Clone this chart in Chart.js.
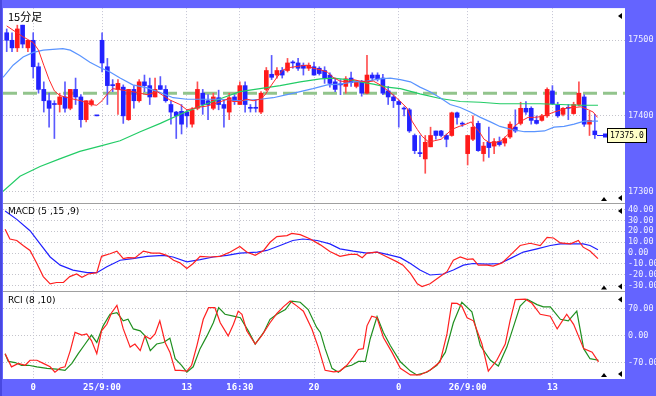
<!DOCTYPE html>
<html>
<head>
<meta charset="utf-8">
<script src="https://cdn.jsdelivr.net/npm/chart.js@4/dist/chart.umd.min.js"></script>
<style>
  html, body { margin: 0; padding: 0; background: #6464ff; }
  #wrap { width: 656px; height: 396px; }
</style>
</head>
<body>
<div id="wrap"><canvas id="chart" width="656" height="396"></canvas></div>
<script>
// 15 minute bars, index 0 = first bar on the left
const openP = [
  17510,17500,17490,17520,17490,17500,17465,17435,17420,17415,
  17415,17425,17410,17435,17425,17395,17415,17400,17500,17465,
  17440,17435,17438,17395,17435,17420,17445,17440,17425,17440,
  17435,17415,17405,17406,17405,17389,17410,17430,17420,17410,
  17424,17415,17405,17425,17415,17440,17410,17410,17405,17435,
  17455,17454,17460,17460,17470,17470,17467,17463,17465,17463,
  17460,17454,17445,17441,17439,17450,17439,17445,17430,17454,
  17454,17450,17433,17425,17419,17410,17408,17374,17350,17343,
  17359,17380,17380,17374,17374,17404,17389,17350,17369,17390,
  17350,17365,17360,17366,17364,17372,17385,17390,17410,17410,
  17394,17394,17400,17433,17414,17402,17411,17403,17415,17425,17389,17380
];
const highP = [
  17515,17510,17520,17520,17500,17510,17470,17445,17430,17420,
  17430,17445,17435,17450,17428,17420,17422,17400,17510,17476,
  17448,17448,17441,17435,17440,17448,17454,17450,17450,17452,
  17440,17420,17406,17415,17408,17411,17445,17435,17428,17430,
  17434,17421,17430,17428,17445,17445,17415,17421,17432,17464,
  17480,17464,17464,17476,17473,17476,17470,17470,17471,17465,
  17465,17457,17450,17448,17452,17458,17447,17447,17480,17457,
  17457,17455,17439,17428,17421,17412,17410,17376,17374,17374,
  17385,17380,17381,17376,17405,17405,17392,17374,17400,17393,
  17365,17385,17370,17372,17372,17392,17408,17418,17419,17412,
  17400,17402,17437,17440,17418,17411,17415,17418,17445,17428,17406,17402
];
const lowP = [
  17485,17485,17485,17490,17485,17450,17430,17405,17385,17370,
  17405,17405,17408,17415,17385,17392,17413,17400,17458,17415,
  17432,17402,17390,17394,17410,17418,17432,17415,17425,17435,
  17418,17389,17370,17376,17385,17385,17408,17402,17395,17408,
  17408,17385,17395,17415,17415,17405,17405,17405,17403,17433,
  17448,17450,17450,17458,17463,17460,17454,17460,17454,17454,
  17443,17438,17432,17428,17430,17439,17437,17426,17429,17447,
  17446,17428,17415,17411,17385,17400,17378,17350,17346,17324,
  17359,17369,17372,17359,17373,17389,17386,17335,17367,17353,
  17340,17345,17350,17360,17360,17370,17378,17388,17402,17389,
  17389,17393,17398,17415,17398,17400,17395,17402,17413,17386,17374,17370
];
const closeP = [
  17500,17490,17515,17495,17500,17465,17435,17420,17410,17415,
  17425,17410,17435,17425,17395,17420,17420,17400,17470,17440,
  17440,17443,17400,17435,17420,17445,17440,17425,17435,17435,
  17420,17405,17400,17389,17400,17408,17435,17415,17415,17425,
  17415,17410,17424,17420,17440,17415,17410,17410,17430,17460,
  17451,17460,17454,17470,17470,17463,17463,17467,17454,17456,
  17450,17443,17435,17441,17449,17444,17445,17430,17454,17450,
  17449,17430,17425,17420,17415,17409,17380,17354,17350,17365,
  17374,17374,17374,17369,17404,17398,17389,17374,17385,17354,
  17360,17358,17366,17362,17370,17389,17380,17410,17405,17394,
  17390,17400,17435,17416,17400,17410,17410,17415,17430,17389,17394,17375
];

// moving averages: [bar position, price]
const maFast = [
  [0,17519],[3,17505],[5,17497],[6,17487],[7,17467],[8,17448],[9,17433],[10,17427],[12,17423],
  [14,17420],[16,17415],[17,17414],[18,17420],[19,17429],[20,17436],[22,17434],[24.6,17431],
  [26.5,17428],[28.4,17432],[30.8,17421],[32.7,17415],[34,17408],[35.9,17411],[37.8,17413],
  [39.7,17417],[41.6,17422],[42.7,17419],[44,17419],[45.4,17422],[46.5,17420],[47.8,17422],
  [48.8,17428],[49.7,17438],[51,17451],[52.2,17461],[53.5,17464],[55.4,17466],[56.7,17467],
  [57.8,17463],[59.2,17461],[60.5,17458],[61.6,17451],[62.9,17446],[64.3,17445],[65.4,17448],
  [66.7,17446],[68,17445],[69.2,17446],[70.5,17441],[71.8,17434],[72.9,17428],[74.3,17419],
  [75.6,17410],[76.5,17393],[77.5,17382],[78.4,17373],[79.7,17365],[80.7,17367],[82,17369],
  [83.1,17376],[84,17382],[85.4,17386],[86.7,17389],[87.7,17392],[88.2,17386],[89.2,17379],
  [90.1,17369],[91,17365],[92,17364],[93.3,17367],[94.7,17376],[95.8,17386],[97.1,17393],
  [98.4,17398],[99.6,17398],[100.9,17399],[102.2,17402],[103.3,17405],[104.7,17408],[106,17411],
  [107.1,17411],[108.4,17412],[109.8,17408],[110.7,17405],[111.5,17398]
];
const maMid = [
  [-0.7,17451],[1.2,17467],[3.1,17478],[5,17484],[6.9,17487],[8.7,17488],[10.6,17489],[12,17487],
  [13.8,17480],[15.7,17471],[17.6,17464],[19.5,17458],[21.4,17450],[23.8,17441],[26.5,17437],
  [28.9,17431],[31.4,17424],[34,17422],[36.5,17422],[40.3,17422],[44,17420],[47.8,17422],
  [50.3,17424],[52.9,17428],[55.4,17432],[57.8,17436],[60.5,17441],[62.9,17442],[65.4,17445],
  [68,17446],[70.5,17449],[72.4,17450],[74.3,17448],[76.2,17445],[78,17438],[79.9,17432],
  [81.8,17424],[83.7,17415],[85.6,17411],[87.5,17405],[89.4,17398],[91.3,17392],[93.1,17386],
  [95.2,17382],[97.7,17379],[99.6,17379],[101.5,17380],[103.3,17385],[105.2,17386],[107.1,17389],
  [109,17393],[111.6,17393]
];
const maSlow = [
  [-0.7,17300],[2.5,17320],[6.3,17333],[10,17343],[13.8,17353],[17.6,17360],[21.4,17367],
  [25.2,17379],[29,17390],[33.7,17405],[37.4,17415],[41.2,17425],[44,17432],[47.8,17436],
  [51.6,17440],[55.4,17445],[59.2,17449],[61.6,17450],[64.3,17448],[66.7,17445],[69.2,17442],
  [71.8,17438],[74.3,17436],[78,17429],[81.8,17423],[85.6,17419],[89.4,17418],[93.1,17416],
  [96.9,17416],[100.7,17416],[104.5,17415],[108.3,17414],[111.6,17414]
];
const refLevel = 17430;

// MACD (5,15,9)
const macdLine = [
  [-0.3,21.9],[0.6,12.9],[1.9,11.5],[3.1,6.9],[4.4,2.4],[5.7,-9.6],[6.9,-21.6],[8.2,-28.2],
  [9.4,-27],[10.7,-27],[11.9,-21.6],[13.2,-19.2],[14.2,-22.3],[15.4,-19.2],[17,-18],[17.9,-3],
  [19.5,-0.6],[20.8,1.8],[22,-5.1],[22.9,-4.2],[24.2,-4.5],[25.8,1.8],[27.4,0],[28.9,0],
  [30.2,-2.1],[31.5,-6.6],[32.7,-9],[34,-14.2],[35.2,-9.6],[36.5,-3],[38.4,-3.6],[40.3,-3],
  [42.2,0.9],[44,6],[45.3,0.9],[46.9,-2.1],[48.5,2.4],[49.7,9.9],[51,15.1],[52.9,16],[53.8,18],
  [55.4,16.9],[57.3,12.9],[59.2,7.5],[61,1.5],[62.9,-3],[64.8,-1.2],[66.1,-1.2],[67.1,-4.2],
  [68,0],[69.9,0.9],[71.8,-3.6],[73.7,-8.1],[74.8,-11.1],[76.2,-18.7],[77.5,-28.2],[78.4,-30.7],
  [79.9,-28.2],[81.8,-21.6],[83.1,-17.1],[84.3,-6.6],[85.6,-3.6],[86.9,-5.7],[88,-5.4],[89,-11.1],
  [90.7,-11.1],[91.8,-12],[93.5,-9],[95,-2.1],[96.9,6.9],[98.8,9],[100.7,6.9],[102,14.4],
  [103.2,13.8],[104.5,9.3],[106.4,8.4],[107.9,11.5],[108.8,5.4],[110.1,1.8],[111.6,-5.1]
];
const signalLine = [
  [-0.3,38.5],[1.9,30.9],[4.4,20.5],[6.3,8.4],[8.2,-3.6],[10.1,-11.1],[12.5,-15.6],[15.2,-18],
  [17,-18],[18.9,-12.6],[21.4,-6.6],[23.8,-5.1],[26.5,-3],[29.5,-2.1],[31.4,-3.6],[34,-8.1],
  [36.5,-6],[39,-3.6],[41.6,-2.1],[44,0],[47.3,0.9],[49.1,2.4],[51.6,6.9],[54,11.5],[55.9,12.9],
  [58.6,11.5],[61,8.4],[62.9,3.9],[65.4,1.8],[68,0],[69.9,0.9],[71.8,-1.2],[74.3,-4.2],[76.2,-9.6],
  [78,-15.6],[79.9,-20.1],[82.4,-19.2],[84.3,-15.6],[86.2,-11.1],[88,-9.6],[90.7,-10.2],[93.1,-9.6],
  [95,-5.1],[97.5,0.9],[100.1,3.9],[102.6,6.9],[104.5,8.4],[106.9,8.4],[108.8,8.4],[110.1,6.9],
  [111.6,3]
];

// RCI (8,10)
const rciShort = [
  [-0.3,-47],[0.9,-81],[2.2,-72],[3.5,-77],[4.4,-64],[5.7,-64],[6.9,-72],[8.2,-81],[9.1,-95],
  [10.1,-84],[11,-81],[12,-39],[12.9,8],[14.2,1],[15.1,4],[16,-13],[17,-47],[17.9,12],[18.9,29],
  [19.8,59],[20.8,78],[22,17],[23.3,-30],[24.2,-22],[25.2,-39],[26.1,-1],[27.1,-9],[28,4],[28.9,38],
  [29.9,-18],[30.8,-43],[31.8,-90],[32.7,-90],[34,-92],[34.9,-77],[35.9,-26],[37.1,42],[38.1,72],
  [39.3,72],[40.3,33],[41.8,-1],[42.8,29],[43.7,63],[44.4,55],[45.3,12],[46.9,-22],[48.2,1],
  [49.7,33],[51,57],[52.2,74],[53.5,89],[54.8,76],[56,63],[57.6,17],[58.8,-30],[60.1,-90],
  [61.7,-94],[62.9,-92],[64.2,-77],[65.4,-56],[66.4,-36],[67.3,-34],[68,25],[68.9,50],[69.9,46],
  [71.1,-5],[72.7,-43],[74.3,-85],[76.2,-102],[78,-102],[79.9,-90],[81.8,-68],[83.1,4],[84,84],
  [85,83],[85.9,76],[86.9,46],[88.1,38],[89.7,-22],[90.9,-92],[92.5,-64],[94.1,-22],[95,38],
  [96,93],[97.9,94],[99.1,84],[100.7,55],[102.6,50],[103.9,17],[105.7,55],[107,29],[108.9,-34],
  [110.5,-43],[111.7,-68]
];
const rciLong = [
  [-0.3,-47],[0.3,-67],[1.6,-70],[2.8,-77],[4.1,-77],[5.7,-81],[7.6,-85],[9.4,-87],[11,-90],
  [12.3,-72],[13.5,-47],[14.8,-22],[16,1],[17,-18],[18.2,25],[19.5,55],[20.8,59],[22,38],[22.9,42],
  [23.9,17],[25.2,12],[26.1,-1],[27.1,-39],[28.3,-22],[29.6,-18],[30.8,-7],[31.8,-60],[33,-77],
  [34,-95],[35.2,-81],[36.5,-34],[37.8,-1],[39,33],[40,72],[41.2,55],[42.8,50],[44.1,46],[45.6,12],
  [46.9,-22],[48.5,8],[49.7,42],[51,55],[52.6,67],[53.8,89],[55.4,86],[56.9,67],[58.5,21],[59.2,8],
  [60.1,-34],[61.4,-85],[62.6,-95],[63.9,-81],[65.1,-77],[66.4,-67],[67.7,-67],[68.6,-9],[69.9,49],
  [71.1,8],[72.4,-26],[74.3,-68],[76.2,-92],[77.4,-102],[79.3,-95],[81.2,-77],[82.8,-43],[84.3,33],
  [85.9,86],[87.8,61],[89.4,-26],[91.3,-64],[92.8,-79],[94.4,-30],[95.7,25],[96.9,76],[98.2,94],
  [100.1,80],[101.3,74],[102.6,74],[104.5,42],[106,38],[107.6,63],[108.9,-34],[110.1,-60],[111.7,-64]
];

// axis ticks
const tickIdx = [5, 18, 34, 44, 58, 74, 87, 103];
const tickText = ['0', '25/9:00', '13', '16:30', '20', '0', '26/9:00', '13'];
const priceTicks = [17300, 17400, 17500];
const macdTicks = [-30, -20, -10, 0, 10, 20, 30, 40];
const rciTicks = [-70, 0, 70];

const UP = '#ff1a1a', DOWN = '#2222ff';
const isUp = i => closeP[i] > openP[i];
const pts = arr => arr.map(p => ({ x: p[0], y: p[1] }));

const monoSmall = { family: 'DejaVu Sans Mono', size: 8.5 };
const gridDots = { color: '#c4c4cc', lineWidth: 1, drawTicks: false };

function rightAxis(min, max, weight, ticks, fmt) {
  return {
    type: 'linear', axis: 'y', position: 'right', stack: 'panels', stackWeight: weight,
    min: min, max: max,
    afterBuildTicks: s => { s.ticks = ticks.map(v => ({ value: v })); },
    afterFit: s => { s.width = 31; },
    ticks: { color: '#f0f0ff', font: monoSmall, padding: 3, autoSkip: false, callback: fmt },
    grid: gridDots,
    border: { display: false, dash: [1, 2] }
  };
}

const lineDs = (data, color, axis, width) => ({
  type: 'line', data: pts(data), yAxisID: axis, borderColor: color,
  borderWidth: width, pointRadius: 0, tension: 0, order: 1
});

const deco = {
  id: 'deco',
  beforeDraw(c) {
    const { ctx, chartArea: a } = c;
    ctx.save();
    ctx.fillStyle = '#6464ff';
    ctx.fillRect(0, 0, c.width, c.height);
    ctx.fillStyle = '#4848e0';
    ctx.fillRect(0, 0, 2, c.height);
    ctx.fillStyle = '#ffffff';
    ctx.fillRect(a.left, a.top, a.right - a.left, a.bottom - a.top);
    ctx.restore();
  },
  afterDraw(c) {
    const { ctx, chartArea: a, scales } = c;
    const main = scales.y, mac = scales.macd, rci = scales.rci;
    ctx.save();
    // panel separators
    ctx.strokeStyle = '#a0a0a0';
    ctx.lineWidth = 1;
    [mac.top, rci.top].forEach(y => {
      ctx.beginPath();
      ctx.moveTo(a.left, Math.round(y) + 0.5);
      ctx.lineTo(a.right, Math.round(y) + 0.5);
      ctx.stroke();
    });
    // panel titles
    ctx.fillStyle = '#000';
    ctx.textBaseline = 'middle';
    ctx.font = '11px "Noto Sans CJK JP"';
    ctx.fillText('15分足', 8, main.top + 9);
    ctx.font = '9px "DejaVu Sans"';
    ctx.fillText('MACD (5 ,15 ,9)', 8, mac.top + 9);
    ctx.fillText('RCI (8 ,10)', 8, rci.top + 9);
    // small scroll markers
    const tri = (x, y, dir) => {
      ctx.beginPath();
      if (dir === 'up') { ctx.moveTo(x - 3, y + 2); ctx.lineTo(x + 3, y + 2); ctx.lineTo(x, y - 2); }
      else { ctx.moveTo(x + 2, y - 3); ctx.lineTo(x + 2, y + 3); ctx.lineTo(x - 2, y); }
      ctx.closePath();
      ctx.fill();
    };
    [main, mac, rci].forEach(s => {
      tri(a.right - 5, s.top + 8, 'left');
      tri(a.right - 21, s.bottom - 4, 'up');
      tri(a.right - 5, s.bottom - 5, 'left');
    });
    // last price tag
    const last = closeP[closeP.length - 1];
    const yp = Math.round(main.getPixelForValue(last)) + 0.5;
    ctx.strokeStyle = '#2222ff';
    ctx.beginPath();
    ctx.moveTo(597, yp);
    ctx.lineTo(606, yp);
    ctx.stroke();
    ctx.fillStyle = '#2222ff';
    ctx.fillRect(603, yp - 2, 4, 4);
    ctx.fillStyle = '#ffffc8';
    ctx.fillRect(607.5, yp - 7, 39, 14);
    ctx.strokeStyle = '#000';
    ctx.strokeRect(607.5, yp - 7, 39, 14);
    ctx.fillStyle = '#000';
    ctx.font = '8px "DejaVu Sans Mono"';
    ctx.fillText(last.toFixed(1), 610, yp + 0.5);
    ctx.restore();
  }
};

const ctx = document.getElementById('chart').getContext('2d');

const chart = new Chart(ctx, {
  type: 'bar',
  data: {
    datasets: [
      lineDs(maFast, '#ff2a2a', 'y', 1),
      lineDs(maMid, '#5a94ff', 'y', 1.2),
      lineDs(maSlow, '#22cc66', 'y', 1.2),
      {
        label: 'body', yAxisID: 'y', order: 2, grouped: false,
        data: openP.map((o, i) => ({ x: i, y: [o, closeP[i]] })),
        backgroundColor: openP.map((o, i) => isUp(i) ? UP : DOWN),
        barThickness: 4, minBarLength: 1
      },
      {
        label: 'wick', yAxisID: 'y', order: 3, grouped: false,
        data: lowP.map((l, i) => ({ x: i, y: [l, highP[i]] })),
        backgroundColor: openP.map((o, i) => isUp(i) ? '#ff5050' : '#5a5aff'),
        barThickness: 1
      },
      {
        type: 'line', yAxisID: 'y', order: 4,
        data: [{ x: -0.7, y: refLevel }, { x: 116.7, y: refLevel }],
        borderColor: '#92c48c', borderWidth: 3, borderDash: [14, 6], pointRadius: 0
      },
      lineDs(macdLine, '#ff2020', 'macd', 1.2),
      lineDs(signalLine, '#2020ff', 'macd', 1.2),
      lineDs(rciShort, '#ff2020', 'rci', 1.2),
      lineDs(rciLong, '#1f8f1f', 'rci', 1.2)
    ]
  },
  options: {
    responsive: false,
    animation: false,
    layout: { padding: { left: 3, top: 2, right: 0, bottom: 0 } },
    plugins: { legend: { display: false }, tooltip: { enabled: false } },
    scales: {
      x: {
        type: 'linear', min: -0.7, max: 116.7, offset: false,
        afterBuildTicks: s => { s.ticks = tickIdx.map(v => ({ value: v })); },
        afterFit: s => { s.height = 17; },
        ticks: {
          color: '#ffffff', padding: 3, autoSkip: false, maxRotation: 0,
          font: { family: 'DejaVu Sans Mono', size: 9, weight: 'bold' },
          callback: v => tickText[tickIdx.indexOf(v)]
        },
        grid: { color: '#c4c4d4', lineWidth: 1, drawTicks: false, offset: false },
        border: { display: false, dash: [1, 2] }
      },
      y: rightAxis(17284.8, 17542.6, 198, priceTicks, v => String(v)),
      macd: rightAxis(-35.2, 46, 90, macdTicks, v => v.toFixed(2)),
      rci: rightAxis(-112.5, 114, 89, rciTicks, v => v.toFixed(2))
    }
  },
  plugins: [deco]
});
</script>
</body>
</html>
